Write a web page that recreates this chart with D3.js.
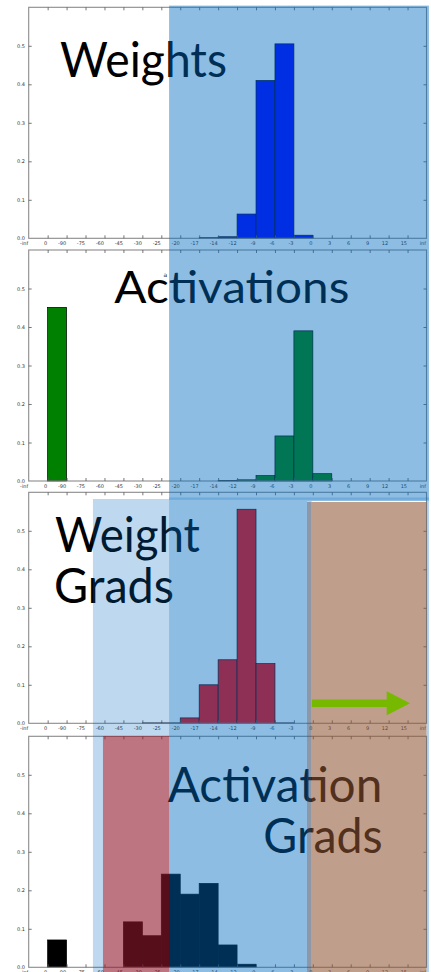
<!DOCTYPE html>
<html><head><meta charset="utf-8">
<script src="https://cdn.jsdelivr.net/npm/d3@7"></script>
<style>html,body{margin:0;padding:0;background:#fff;overflow:hidden}</style>
</head><body>
<svg id="c" width="431" height="972"></svg>
<script>
// ---- data ----
const tickLabels = ["-inf","0","-90","-75","-60","-45","-30","-25","-20","-17","-14","-12","-9","-6","-3","0","3","6","9","12","15","inf"];
const yTicks = [0, 0.1, 0.2, 0.3, 0.4, 0.5];
const weights         = [0,0,0,0,0,0,0,0,0,0.0015,0.004,0.063,0.41,0.505,0.008,0,0,0,0,0,0];
const activations     = [0,0.451,0,0,0,0,0,0,0,0,0.001,0.003,0.014,0.117,0.39,0.019,0,0,0,0,0];
const weightGrads     = [0,0,0,0,0,0,0.001,0.001,0.014,0.1,0.165,0.556,0.155,0.001,0,0,0,0,0,0,0];
const activationGrads = [0,0.071,0,0,0,0.118,0.082,0.242,0.19,0.218,0.058,0.008,0,0,0,0,0,0,0,0,0];
const titles = [["Weights"],["Activations"],["Weight","Grads"],["Activation","Grads"]];
const barColors = ["#0000ff","#008000","#ff0000","#000000"];

// ---- layout ----
const svg = d3.select("#c");
const x = d3.scaleLinear().domain([0, tickLabels.length - 1]).range([28.7, 426.5]);
const panelTops = [7.3, 250, 492.3, 736.3];
const panelH = 231;
const series = [weights, activations, weightGrads, activationGrads];
const titleLayout = [
  [{x:60, dy:70, w:167, fs:48}],
  [{x:114.3, dy:53.3, w:235, fs:45}],
  [{x:55, dy:60, w:145, fs:48},{x:54, dy:111, w:120, fs:48}],
  [{x:167.7, dy:65.4, w:214.6, fs:48},{x:263.3, dy:117, w:119.4, fs:48}]
];

const ys = [];
series.forEach((vals, p) => {
  const top = panelTops[p];
  const y = d3.scaleLinear().domain([0, 0.6]).range([top + panelH, top]);
  ys.push(y);
  const g = svg.append("g");

  // bars
  g.selectAll("rect.bar").data(vals.map((v,i)=>({v,i})).filter(d=>d.v>0)).join("rect")
    .attr("class","bar")
    .attr("x", d => x(d.i)).attr("width", d => x(d.i+1) - x(d.i))
    .attr("y", d => y(d.v)).attr("height", d => y(0) - y(d.v))
    .attr("fill", barColors[p]).attr("stroke", "#000").attr("stroke-width", 0.7);

  // frame
  g.append("rect").attr("x", x(0)).attr("y", top)
    .attr("width", x(21) - x(0)).attr("height", panelH)
    .attr("fill","none").attr("stroke","#8a8a8a").attr("stroke-width",1.1);

  const tv = d3.range(tickLabels.length);
  const bottom = g.append("g").attr("transform",`translate(0,${y(0)})`)
    .call(d3.axisBottom(x).tickValues(tv).tickSize(-3).tickSizeOuter(0).tickPadding(3.2)
      .tickFormat(i => tickLabels[i]));
  bottom.selectAll("text").attr("text-anchor","end").attr("dx",-1);
  const topAx = g.append("g").attr("transform",`translate(0,${top})`)
    .call(d3.axisTop(x).tickValues(tv.slice(1,-1)).tickSize(-3).tickSizeOuter(0).tickFormat(""));
  const left = g.append("g").attr("transform",`translate(${x(0)},0)`)
    .call(d3.axisLeft(y).tickValues(yTicks).tickSize(-3).tickSizeOuter(0).tickPadding(3.7)
      .tickFormat(d3.format(".1f")));
  const right = g.append("g").attr("transform",`translate(${x(21)},0)`)
    .call(d3.axisRight(y).tickValues(yTicks.slice(1)).tickSize(-3).tickSizeOuter(0).tickFormat(""));
  [bottom, topAx, left, right].forEach(a => {
    a.select(".domain").remove();
    a.selectAll("line").attr("stroke","#555").attr("stroke-width",0.8);
    a.selectAll("text").attr("font-family","DejaVu Sans").attr("font-size",5).attr("fill","#333");
  });
  bottom.selectAll(".tick").filter(i => i===0 || i===21).select("line").remove();
  left.selectAll(".tick").filter(d => d===0).select("line").remove();

  // titles
  titles[p].forEach((t, k) => {
    const L = titleLayout[p][k];
    g.append("text").attr("x", L.x).attr("y", top + L.dy)
      .attr("font-family","Lato, 'Open Sans', sans-serif").attr("font-size", L.fs)
      .attr("textLength", L.w).attr("lengthAdjust","spacingAndGlyphs")
      .attr("fill","#000").text(t);
  });
});

// stray small glyph in Activations panel
svg.append("text").attr("x",163.5).attr("y",277).attr("font-family","DejaVu Sans")
  .attr("font-size",6).attr("fill","#222").text("a");

// ---- annotation overlays (x in bin-edge units) ----
const blue = "rgb(0,107,192)";
const overlays = [
  {x0:7.41, x1:21.13, y0:5.6, y1:501, fill:blue, op:0.445},
  {x0:7.41, x1:14.69, y0:501, y1:972, fill:blue, op:0.445},
  {x0:21.0, x1:21.13, y0:501, y1:972, fill:blue, op:0.3},
  {x0:3.39, x1:7.41, y0:499, y1:972, fill:blue, op:0.255},
  {x0:3.92, x1:7.41, y0:736, y1:972, fill:"rgb(185,0,0)", op:0.46},
  {x0:14.69, x1:14.94, y0:501.5, y1:972, fill:"rgb(66,82,107)", op:0.6},
  {x0:14.94, x1:21.0, y0:502, y1:972, fill:"rgb(144,85,53)", op:0.57},
  {x0:7.41, x1:21.13, y0:497.5, y1:499.8, fill:blue, op:0.22}
];
svg.append("g").selectAll("rect").data(overlays).join("rect")
  .attr("x", d => x(d.x0)).attr("width", d => x(d.x1) - x(d.x0))
  .attr("y", d => d.y0).attr("height", d => d.y1 - d.y0)
  .attr("fill", d => d.fill).attr("fill-opacity", d => d.op);

// green arrow in Weight Grads panel
const arrow = {from:14.95, headBase:18.9, tip:20.13, v:0.052};
const ya = ys[2](arrow.v);
const p = d3.path();
p.moveTo(x(arrow.from), ya-3.7); p.lineTo(x(arrow.headBase), ya-3.7);
p.lineTo(x(arrow.headBase), ya-12); p.lineTo(x(arrow.tip), ya);
p.lineTo(x(arrow.headBase), ya+12); p.lineTo(x(arrow.headBase), ya+3.7);
p.lineTo(x(arrow.from), ya+3.7); p.closePath();
svg.append("path").attr("d", p.toString()).attr("fill","#76b900");
</script>
</body></html>
